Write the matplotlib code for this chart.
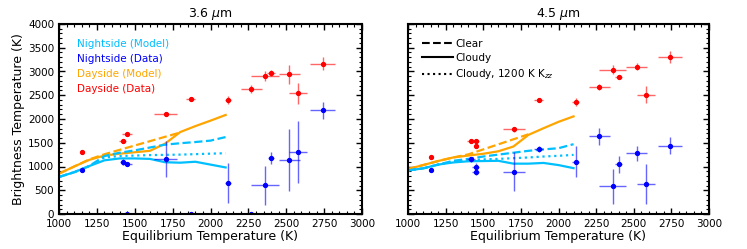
import matplotlib
matplotlib.use("Agg")
import matplotlib.pyplot as plt
from matplotlib.lines import Line2D
from matplotlib.ticker import MultipleLocator

# ---------------- data ----------------
T_mod = [1000, 1100, 1200, 1300, 1400, 1500, 1600, 1700, 1800, 1900, 2000, 2100]
T_clear_day = [1000, 1100, 1200, 1300, 1400, 1500, 1600, 1700, 1800]

# 3.6 micron models
day_cloudy36 = [850, 1000, 1140, 1230, 1270, 1300, 1330, 1480, 1725, 1850, 1965, 2085]
day_clear36 = [850, 1000, 1150, 1258, 1350, 1442, 1533, 1625, 1716]
night_cloudy36 = [780, 880, 1010, 1130, 1170, 1170, 1160, 1090, 1080, 1100, 1040, 980]
night_clear36 = [780, 880, 1010, 1220, 1290, 1340, 1400, 1460, 1490, 1515, 1545, 1620]
night_kzz36 = [780, 880, 1010, 1190, 1220, 1230, 1240, 1245, 1250, 1260, 1270, 1280]

# 4.5 micron models
day_cloudy45 = [946, 1030, 1115, 1190, 1230, 1268, 1320, 1420, 1665, 1805, 1940, 2055]
day_clear45 = [946, 1030, 1115, 1190, 1255, 1360, 1466, 1572, 1678]
night_cloudy45 = [918, 960, 1040, 1085, 1110, 1115, 1120, 1060, 1060, 1075, 1030, 965]
night_clear45 = [918, 960, 1040, 1120, 1160, 1210, 1250, 1290, 1330, 1360, 1385, 1470]
night_kzz45 = [918, 960, 1040, 1100, 1130, 1150, 1160, 1175, 1190, 1210, 1225, 1245]

# 3.6 micron data
day_T36 = [1155, 1420, 1450, 1705, 1870, 2115, 2270, 2360, 2400, 2520, 2580, 2740]
day_B36 = [1310, 1535, 1675, 2105, 2425, 2395, 2635, 2910, 2970, 2945, 2540, 3165]
day_Berr36 = [40, 40, 40, 50, 40, 80, 90, 100, 70, 200, 220, 130]
day_Terr36 = [0, 25, 35, 75, 30, 22, 70, 90, 25, 70, 60, 80]

night_T36 = [1155, 1420, 1450, 1705, 2115, 2360, 2400, 2520, 2580, 2740, 1450, 1870, 2270]
night_B36 = [930, 1100, 1055, 1165, 660, 610, 1180, 1135, 1305, 2180, 0, 0, 0]
night_Berr36 = [30, 60, 30, 380, 420, 410, 130, 650, 660, 180, 0, 0, 0]
night_Terr36 = [0, 20, 35, 75, 22, 90, 22, 70, 60, 80, 25, 30, 70]

# 4.5 micron data
day_T45 = [1155, 1420, 1450, 1450, 1705, 1870, 2115, 2270, 2360, 2400, 2520, 2580, 2740]
day_B45 = [1190, 1545, 1540, 1430, 1780, 2400, 2360, 2670, 3040, 2885, 3105, 2515, 3300]
day_Berr45 = [30, 40, 40, 40, 60, 50, 80, 70, 90, 50, 70, 180, 130]
day_Terr45 = [0, 25, 25, 0, 75, 30, 22, 70, 90, 25, 70, 60, 80]

night_T45 = [1155, 1420, 1450, 1450, 1705, 1870, 2115, 2270, 2360, 2400, 2520, 2580, 2740]
night_B45 = [920, 1150, 985, 890, 890, 1375, 1105, 1640, 585, 1045, 1275, 630, 1435]
night_Berr45 = [30, 60, 80, 60, 410, 60, 330, 180, 370, 175, 160, 420, 180]
night_Terr45 = [0, 25, 25, 25, 75, 30, 22, 70, 90, 25, 70, 60, 80]

titles = ["3.6 $\\mu$m", "4.5 $\\mu$m"]

CYAN = "#00BFFF"
ORANGE = "#FFA500"

fig = plt.figure(figsize=(7.47, 2.49), dpi=100)
ax1 = fig.add_axes([59 / 747, 35 / 249, 303 / 747, 190 / 249])
ax2 = fig.add_axes([408 / 747, 35 / 249, 301 / 747, 190 / 249], sharey=ax1)

def draw(ax, dc, dcl, nc, ncl, nk, dT, dB, dBe, dTe, nT, nB, nBe, nTe, title):
    ax.plot(T_mod, dc, color=ORANGE, lw=1.6, ls='-')
    ax.plot(T_clear_day, dcl, color=ORANGE, lw=1.6, ls='--')
    ax.plot(T_mod, nc, color=CYAN, lw=1.6, ls='-')
    ax.plot(T_mod, ncl, color=CYAN, lw=1.6, ls='--')
    ax.plot(T_mod, nk, color=CYAN, lw=1.6, ls=':')
    ax.errorbar(dT, dB, yerr=dBe, xerr=dTe, fmt='o', color='red', ms=2.8,
                elinewidth=1.0, ecolor=(1, 0, 0, 0.6), capsize=0)
    ax.errorbar(nT, nB, yerr=nBe, xerr=nTe, fmt='o', color='blue', ms=2.8,
                elinewidth=1.0, ecolor=(0, 0, 1, 0.6), capsize=0)
    ax.set_xlim(1000, 3000)
    ax.set_ylim(0, 4000)
    ax.xaxis.set_major_locator(MultipleLocator(250))
    ax.xaxis.set_minor_locator(MultipleLocator(50))
    ax.yaxis.set_major_locator(MultipleLocator(500))
    ax.yaxis.set_minor_locator(MultipleLocator(100))
    ax.tick_params(which='both', direction='in', top=True, right=True, labelsize=7.5)
    ax.tick_params(which='major', length=4, width=1)
    ax.tick_params(which='minor', length=2, width=0.8)
    for s in ax.spines.values():
        s.set_linewidth(1.5)
    ax.set_xlabel("Equilibrium Temperature (K)", fontsize=9, labelpad=1)
    ax.set_title(title, fontsize=9, pad=5)

draw(ax1, day_cloudy36, day_clear36, night_cloudy36, night_clear36, night_kzz36,
     day_T36, day_B36, day_Berr36, day_Terr36,
     night_T36, night_B36, night_Berr36, night_Terr36, titles[0])
draw(ax2, day_cloudy45, day_clear45, night_cloudy45, night_clear45, night_kzz45,
     day_T45, day_B45, day_Berr45, day_Terr45,
     night_T45, night_B45, night_Berr45, night_Terr45, titles[1])

ax1.set_ylabel("Brightness Temperature (K)", fontsize=9, labelpad=2)
plt.setp(ax2.get_yticklabels(), visible=False)

# left legend: coloured text only
labels = ["Nightside (Model)", "Nightside (Data)", "Dayside (Model)", "Dayside (Data)"]
colors = [CYAN, "blue", ORANGE, "red"]
handles = [Line2D([], [], linestyle='none') for _ in labels]
leg1 = ax1.legend(handles, labels, loc='upper left', frameon=False, fontsize=7.5,
                  handlelength=0, handletextpad=0, labelspacing=0.5,
                  bbox_to_anchor=(0.027, 0.972))
for t, c in zip(leg1.get_texts(), colors):
    t.set_color(c)

# right legend: line styles
h2 = [Line2D([], [], color='black', ls='--', lw=1.5),
      Line2D([], [], color='black', ls='-', lw=1.5),
      Line2D([], [], color='black', ls=':', lw=1.5)]
ax2.legend(h2, ["Clear", "Cloudy", "Cloudy, 1200 K K$_{zz}$"], loc='upper left',
           frameon=False, fontsize=7.5, handlelength=2.9, handletextpad=0.25,
           labelspacing=0.42, bbox_to_anchor=(0.017, 0.972))

fig.savefig("out.png", dpi=100)
